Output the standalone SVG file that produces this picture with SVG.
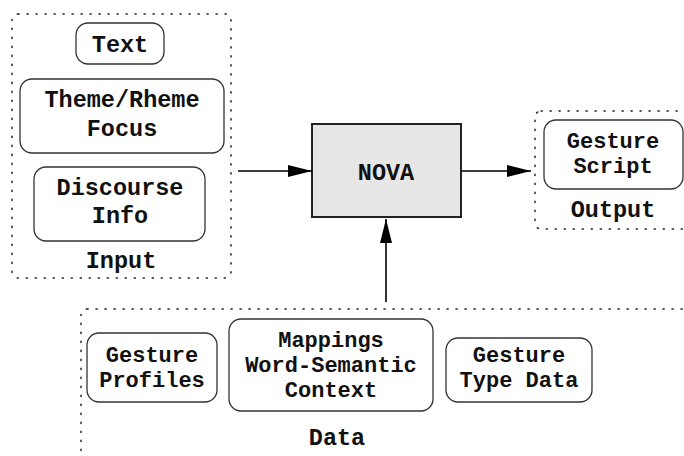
<svg xmlns="http://www.w3.org/2000/svg" width="684" height="456" viewBox="0 0 684 456">
<style>
.grp{fill:none;stroke:#222;stroke-width:1.5;stroke-dasharray:1.2 7.8;stroke-linecap:round}
.box{fill:#fff;stroke:#333;stroke-width:1.3}
.nova{fill:#e6e6e6;stroke:#222;stroke-width:2}
text{font-family:"Liberation Mono","Courier New",monospace;font-weight:bold;font-size:22px;fill:#111;text-anchor:middle}
.big{font-size:23.5px}
.con{stroke:#000;stroke-width:1.6;fill:none}
</style>
<defs>
<marker id="ah" markerWidth="24" markerHeight="12" refX="24" refY="6" orient="auto" markerUnits="userSpaceOnUse">
<path d="M0,0 L24,6 L0,12 Z" fill="#000"/>
</marker>
</defs>
<g id="input">
<rect class="grp" x="12" y="14" width="219" height="264" rx="6"/>
<text class="big" x="121" y="268">Input</text>
</g>
<g id="text-node">
<rect class="box" x="76" y="23" width="88" height="41" rx="12"/>
<text class="big" x="120" y="52">Text</text>
</g>
<g id="theme-node">
<rect class="box" x="20" y="79" width="204" height="74" rx="12"/>
<text class="big" x="122" y="107">Theme/Rheme</text>
<text class="big" x="122" y="136">Focus</text>
</g>
<g id="discourse-node">
<rect class="box" x="34" y="167" width="171" height="74" rx="12"/>
<text class="big" x="120" y="195">Discourse</text>
<text class="big" x="120" y="223">Info</text>
</g>
<g id="nova">
<rect class="nova" x="312" y="124" width="149" height="93"/>
<text class="big" x="386" y="180">NOVA</text>
</g>
<g id="output">
<rect class="grp" x="535" y="111" width="160" height="118" rx="6"/>
<text class="big" x="613" y="217">Output</text>
</g>
<g id="gesture-script">
<rect class="box" x="544" y="120" width="139" height="69" rx="12"/>
<text x="613" y="148">Gesture</text>
<text x="613" y="173">Script</text>
</g>
<g id="data">
<rect class="grp" x="81" y="309" width="620" height="160" rx="6"/>
<text class="big" x="337" y="445">Data</text>
</g>
<g id="gesture-profiles">
<rect class="box" x="87" y="333" width="130" height="69" rx="12"/>
<text x="152" y="362">Gesture</text>
<text x="152" y="387">Profiles</text>
</g>
<g id="mappings">
<rect class="box" x="229" y="319" width="204" height="92" rx="12"/>
<text x="331" y="347">Mappings</text>
<text x="331" y="372">Word-Semantic</text>
<text x="331" y="397">Context</text>
</g>
<g id="gesture-type">
<rect class="box" x="446" y="338" width="146" height="64" rx="12"/>
<text x="519" y="362">Gesture</text>
<text x="519" y="387">Type Data</text>
</g>
<g id="connectors">
<line class="con" x1="238" y1="171" x2="312" y2="171" marker-end="url(#ah)"/>
<line class="con" x1="461" y1="171" x2="531" y2="171" marker-end="url(#ah)"/>
<line class="con" x1="386" y1="302" x2="386" y2="219" marker-end="url(#ah)"/>
</g>
</svg>
